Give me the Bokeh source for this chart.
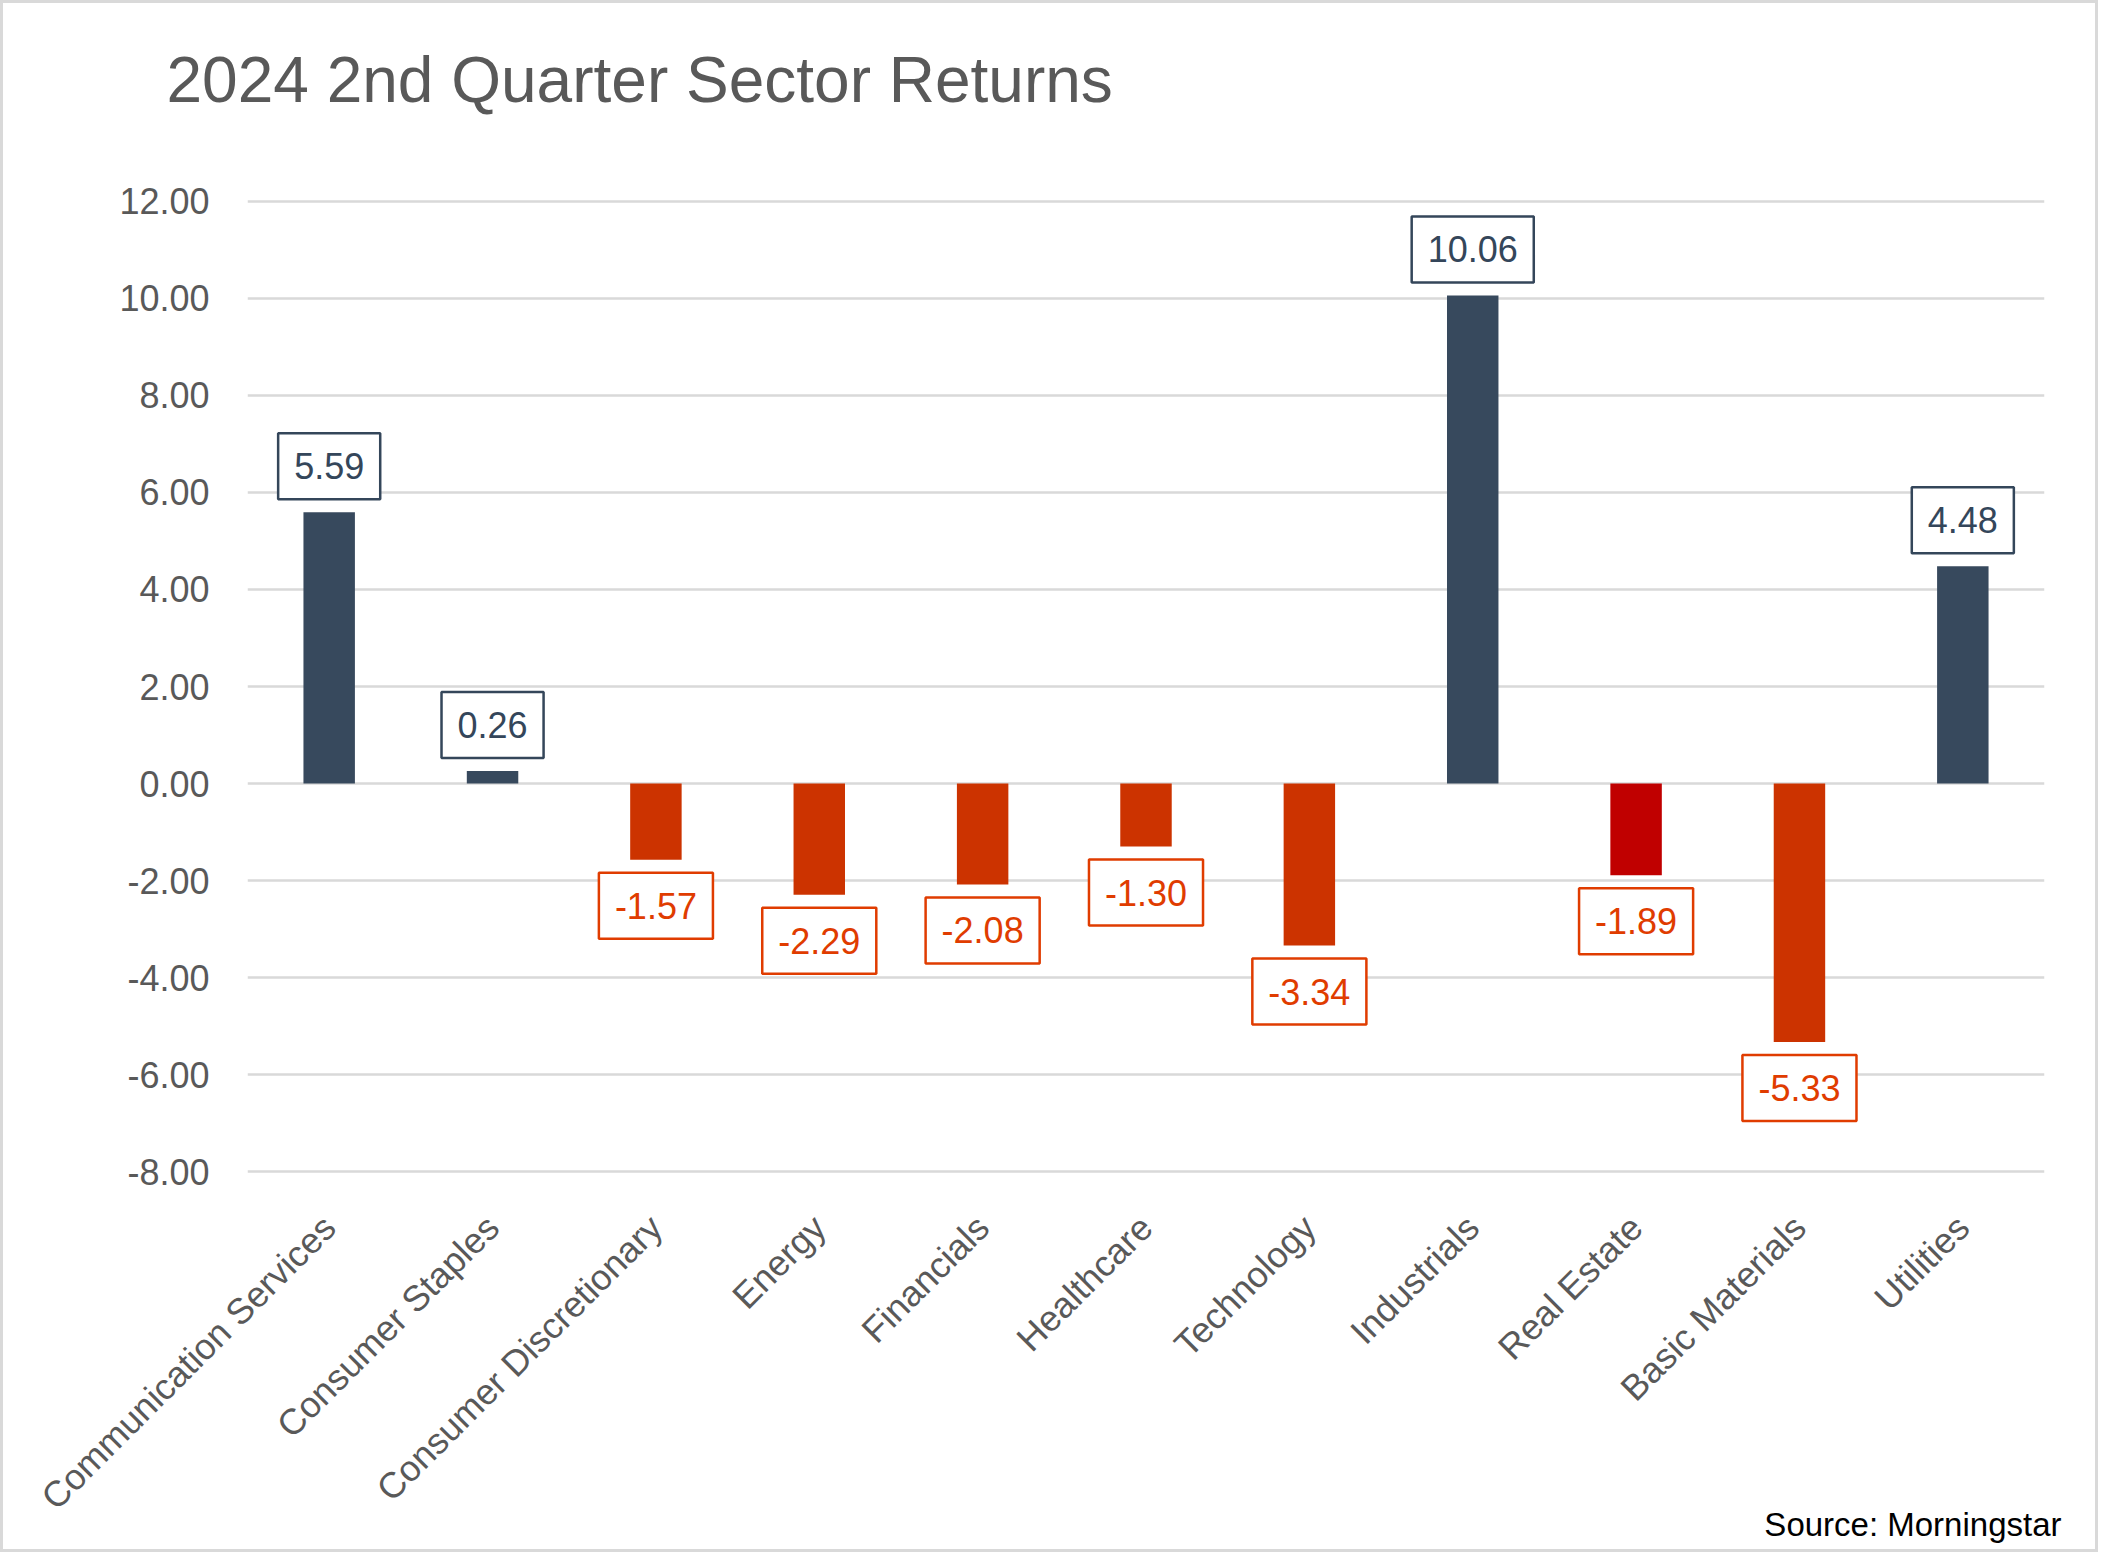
import math
from bokeh.plotting import figure
from bokeh.models import FixedTicker, NumeralTickFormatter, Label, Range1d, ColumnDataSource
from bokeh.core.properties import value
from bokeh.embed import file_html
from bokeh.resources import INLINE

sectors = ["Communication Services", "Consumer Staples", "Consumer Discretionary", "Energy",
           "Financials", "Healthcare", "Technology", "Industrials", "Real Estate",
           "Basic Materials", "Utilities"]
returns = [5.59, 0.26, -1.57, -2.29, -2.08, -1.30, -3.34, 10.06, -1.89, -5.33, 4.48]
y_ticks = [-8, -6, -4, -2, 0, 2, 4, 6, 8, 10, 12]
title_text = "2024 2nd Quarter Sector Returns"
source_text = "Source: Morningstar"

POS = "#37495d"
NEG = "#cc3300"
RE = "#c00000"
POS_LBL = "#34465a"
NEG_LBL = "#e03c00"
FONT = "Liberation Sans"

bar_colors = [RE if s == "Real Estate" else (POS if v >= 0 else NEG) for s, v in zip(sectors, returns)]
lbl_colors = [POS_LBL if v >= 0 else NEG_LBL for v in returns]
lbl_offsets = [-46 if v >= 0 else 46 for v in returns]
labels = [f"{v:.2f}" for v in returns]

src = ColumnDataSource(dict(x=sectors, top=returns, color=bar_colors, lc=lbl_colors,
                            yo=lbl_offsets, label=labels))

p = figure(x_range=sectors, y_range=Range1d(-8.1, 12.1),
           frame_width=1797, frame_height=980,
           min_border_left=244, min_border_right=51, min_border_top=193, min_border_bottom=373,
           output_backend="svg", toolbar_location=None)
p.styles = {"border": "3px solid #d9d9d9"}
p.outline_line_color = None
p.background_fill_color = "white"
p.border_fill_color = "white"
p.title.visible = False

p.vbar(x="x", top="top", bottom=0, width=0.315, color="color", line_color=None, source=src)

p.text(x="x", y="top", text="label", y_offset="yo", text_align="center", text_baseline="middle",
       text_font=value(FONT), text_font_size="36px", text_color="lc",
       border_line_color="lc", border_line_width=2.5, background_fill_color="white",
       padding=(16, 20), source=src)

p.xgrid.grid_line_color = None
p.ygrid.grid_line_color = "#d9d9d9"
p.ygrid.grid_line_width = 2.7
p.ygrid.ticker = FixedTicker(ticks=y_ticks)

p.yaxis.ticker = FixedTicker(ticks=y_ticks)
p.yaxis.formatter = NumeralTickFormatter(format="0.00")
p.yaxis.axis_line_color = None
p.yaxis.major_tick_line_color = None
p.yaxis.minor_tick_line_color = None
p.yaxis.major_tick_out = 0
p.yaxis.major_tick_in = 0
p.yaxis.major_label_standoff = 38
p.yaxis.major_label_text_font = FONT
p.yaxis.major_label_text_font_size = "36px"
p.yaxis.major_label_text_color = "#595959"

p.xaxis.axis_line_color = None
p.xaxis.major_tick_line_color = None
p.xaxis.minor_tick_line_color = None
p.xaxis.major_tick_out = 0
p.xaxis.major_tick_in = 0
p.xaxis.major_label_standoff = 45
p.xaxis.major_label_orientation = math.pi / 4
p.xaxis.major_label_text_font = FONT
p.xaxis.major_label_text_font_size = "36px"
p.xaxis.major_label_text_color = "#595959"

title_lbl = Label(x=-81, y=117, x_units="screen", y_units="screen", text=title_text,
                  text_font=FONT, text_font_size="64px", text_color="#595959",
                  text_baseline="alphabetic", text_align="left")
source_lbl = Label(x=1814, y=-1400, x_units="screen", y_units="screen", text=source_text,
                   text_font=FONT, text_font_size="33px", text_color="#000000",
                   text_baseline="alphabetic", text_align="right")
p.add_layout(title_lbl, "above")
p.add_layout(source_lbl, "above")

open("out.html", "w").write(file_html(p, INLINE))
